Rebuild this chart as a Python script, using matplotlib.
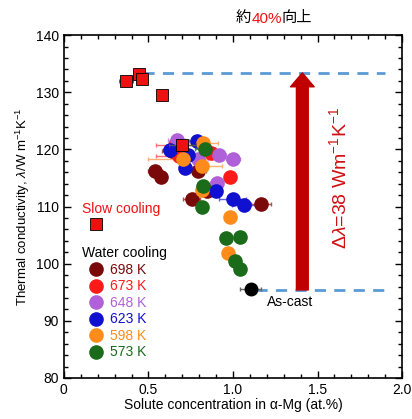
import matplotlib
matplotlib.use("Agg")
import matplotlib.pyplot as plt
from matplotlib.lines import Line2D
from matplotlib.ticker import MultipleLocator

plt.rcParams['font.family'] = ['Liberation Sans', 'Noto Sans CJK JP']
plt.rcParams['mathtext.fontset'] = 'custom'
plt.rcParams['mathtext.rm'] = 'Liberation Sans'
plt.rcParams['mathtext.it'] = 'Liberation Sans:italic'

# データ
slow_x = [0.367, 0.444, 0.463, 0.578, 0.700]
slow_y = [132.0, 133.2, 132.3, 129.5, 120.8]
slow_xerr = [0.04, 0.03, 0.02, 0.03, 0.08]

temps = ['698 K', '673 K', '648 K', '623 K', '598 K', '573 K']
colors = ['#7a0a0a', '#ff1a1a', '#b060d8', '#1010d0', '#ff8c1a', '#1a6b1a']
err_colors = ['#b05050', '#ff7070', '#c890e8', '#6060e0', '#ffb070', '#509050']

wc_x = [
    [0.641, 0.538, 0.572, 0.791, 0.757, 0.846, 1.165],
    [0.657, 0.682, 0.870, 0.982],
    [0.667, 0.791, 0.917, 0.999, 0.903],
    [0.789, 0.627, 0.732, 0.718, 0.901, 0.998, 1.063],
    [0.824, 0.706, 0.814, 0.815, 0.980, 0.968],
    [0.836, 0.820, 0.817, 0.959, 1.039, 1.012, 1.043],
]
wc_y = [
    [119.7, 116.3, 115.1, 116.3, 111.3, 112.7, 110.5],
    [120.8, 118.8, 119.4, 115.2],
    [121.6, 118.4, 119.1, 118.3, 114.2],
    [121.5, 119.9, 119.0, 116.8, 112.8, 111.3, 110.2],
    [121.1, 118.4, 117.1, 112.9, 108.2, 101.9],
    [120.1, 113.6, 110.0, 104.5, 104.7, 100.4, 99.0],
]
wc_xerr = [
    [0.06, 0.04, 0.03, 0.05, 0.05, 0.03, 0.06],
    [0.11, 0.14, 0.03, 0.02],
    [0.05, 0.06, 0.04, 0.04, 0.04],
    [0.05, 0.04, 0.04, 0.03, 0.03, 0.08, 0.07],
    [0.09, 0.21, 0.12, 0.03, 0.02, 0.02],
    [0.06, 0.03, 0.02, 0.02, 0.02, 0.03, 0.02],
]

ascast_x = [1.104]
ascast_y = [95.6]
ascast_xerr = [0.06]

lam_max = 133.4
lam_min = 95.4
arrow_x = 1.41
line_end = 1.90

fig = plt.figure(figsize=(4.12, 4.19), dpi=100)
ax = fig.add_axes([0.155, 0.098, 0.821, 0.818])

# 破線
ax.plot([0.47, line_end], [lam_max, lam_max], ls=(0, (4, 3)), color='#5b9bd5', lw=2, zorder=1)
ax.plot([ascast_x[0] + 0.03, line_end], [lam_min, lam_min], ls=(0, (4, 3)), color='#5b9bd5', lw=2, zorder=1)

# 水冷
for i in range(len(temps)):
    ax.errorbar(wc_x[i], wc_y[i], xerr=wc_xerr[i], fmt='o', ms=9.5, mfc=colors[i], mec=colors[i],
                ecolor=err_colors[i], elinewidth=1, capsize=1.5, zorder=3)

# 徐冷
ax.errorbar(slow_x, slow_y, xerr=slow_xerr, fmt='s', ms=8, mfc='#ee1111', mec='black', mew=0.6,
            ecolor='#555555', elinewidth=1, capsize=1.5, zorder=4)

# 鋳造まま
ax.errorbar(ascast_x, ascast_y, xerr=ascast_xerr, fmt='o', ms=9, color='black',
            ecolor='#666666', elinewidth=1, capsize=1.5, zorder=4)
ax.text(1.20, 94.6, 'As-cast', fontsize=10, va='top', ha='left')

# 矢印
ax.annotate('', xy=(arrow_x, lam_max), xytext=(arrow_x, lam_min),
            arrowprops=dict(arrowstyle='simple,head_length=1.0,head_width=1.7,tail_width=0.85',
                            color='#c00000', shrinkA=0, shrinkB=0, mutation_scale=10), zorder=2)
ax.text(1.63, 115, r'$\it{\Delta\lambda}$=38 Wm$^{-1}$K$^{-1}$', rotation=90, color='#d01010',
        fontsize=14, ha='center', va='center')

# 凡例
h_slow = [Line2D([], [], marker='s', ls='', ms=8, mfc='#ee1111', mec='black', mew=0.6)]
leg1 = ax.legend(h_slow, [' '], title='Slow cooling', loc='upper left', bbox_to_anchor=(0.025, 0.543),
                 frameon=False, handlelength=2.0, handletextpad=0.0, labelspacing=0.18, borderpad=0.2,
                 fontsize=10, title_fontsize=10, alignment='left')
leg1.get_title().set_color('#ee1111')
ax.add_artist(leg1)

h_wc = [Line2D([], [], marker='o', ls='', ms=9.5, color=c) for c in colors]
leg2 = ax.legend(h_wc, temps, title='Water cooling', loc='upper left', bbox_to_anchor=(0.025, 0.412),
                 frameon=False, handlelength=2.0, handletextpad=0.0, labelspacing=0.18,
                 borderpad=0.2, fontsize=10, title_fontsize=10, alignment='left')
for t, c in zip(leg2.get_texts(), colors):
    t.set_color(c)

ax.set_xlim(0, 2.0)
ax.set_ylim(80, 140)
ax.xaxis.set_major_locator(MultipleLocator(0.5))
ax.xaxis.set_minor_locator(MultipleLocator(0.1))
ax.yaxis.set_major_locator(MultipleLocator(10))
ax.yaxis.set_minor_locator(MultipleLocator(2))
ax.tick_params(which='both', direction='in', top=True, right=True, labelsize=10, width=1)
ax.tick_params(which='major', length=5)
ax.tick_params(which='minor', length=3)
for s in ax.spines.values():
    s.set_linewidth(1.2)
ax.xaxis.set_major_formatter(matplotlib.ticker.FuncFormatter(lambda v, p: '0' if v == 0 else f'{v:.1f}'))

ax.set_xlabel('Solute concentration in α-Mg (at.%)', fontsize=10, labelpad=1)
ax.set_ylabel(r'Thermal conductivity, $\it{\lambda}$/W m$^{-1}$K$^{-1}$', fontsize=9.5, labelpad=3)

# タイトル
t1 = fig.text(0.573, 0.958, '約', fontsize=11, va='center', family='Noto Sans CJK JP')
t2 = ax.annotate('40%', xy=(1, 0), xycoords=t1, va='bottom', fontsize=11, color='#ee1111',
                 family=['Liberation Sans'], annotation_clip=False)
t3 = ax.annotate('向上', xy=(1, 0), xycoords=t2, va='bottom', fontsize=11,
                 family='Noto Sans CJK JP', annotation_clip=False)

fig.savefig('out.png', dpi=100)
